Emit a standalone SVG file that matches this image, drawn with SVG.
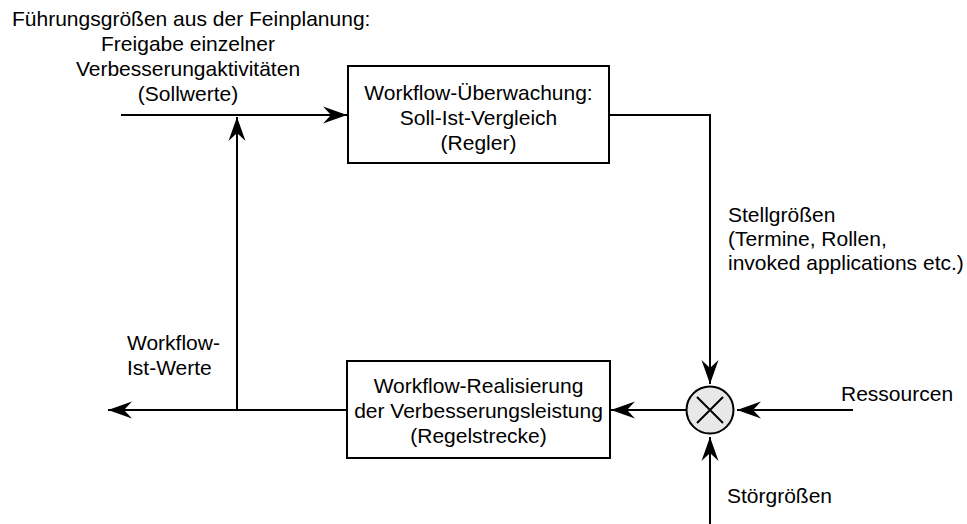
<svg xmlns="http://www.w3.org/2000/svg" width="967" height="524" viewBox="0 0 967 524">
  <style>
    text { font-family: "Liberation Sans", Arial, sans-serif; font-size: 21px; fill: #000; }
    .c { text-anchor: middle; }
    .box { fill: #fff; stroke: #000; stroke-width: 2; }
    .wire { fill: none; stroke: #000; stroke-width: 2; marker-end: url(#arrow); }
    .plain { fill: none; stroke: #000; stroke-width: 2; }
  </style>
  <defs>
    <marker id="arrow" markerUnits="userSpaceOnUse" markerWidth="30" markerHeight="24" viewBox="-26 -12 28 24" refX="0" refY="0" orient="auto">
      <path d="M0,0 L-24,-8.5 L-16,0 L-24,8.5 Z" fill="#000"/>
    </marker>
  </defs>
  <rect width="967" height="524" fill="#fff"/>

  <!-- connectors -->
  <g id="connectors">
    <path class="wire" d="M121,115 H347"/>
    <path class="wire" d="M237,410 V117"/>
    <path class="wire" d="M609,115 H710 V384"/>
    <path class="wire" d="M853,410 H737"/>
    <path class="wire" d="M710,524 V437"/>
    <path class="wire" d="M686,410 H611"/>
    <path class="wire" d="M347,410 H108"/>
  </g>

  <!-- controller -->
  <g id="regler">
    <rect class="box" x="348" y="66" width="261" height="97"/>
    <text class="c" x="478.5" y="100">Workflow-Überwachung:</text>
    <text class="c" x="478.5" y="125">Soll-Ist-Vergleich</text>
    <text class="c" x="478.5" y="150">(Regler)</text>
  </g>

  <!-- controlled system -->
  <g id="regelstrecke">
    <rect class="box" x="347" y="361" width="263" height="97"/>
    <text class="c" x="478.5" y="393">Workflow-Realisierung</text>
    <text class="c" x="478.5" y="418">der Verbesserungsleistung</text>
    <text class="c" x="478.5" y="443">(Regelstrecke)</text>
  </g>

  <!-- mixing point -->
  <g id="mischstelle">
    <circle cx="710" cy="410" r="23.5" fill="#e8e8e8" stroke="#000" stroke-width="2"/>
    <path class="plain" d="M697,397 L723,423 M723,397 L697,423"/>
  </g>

  <!-- labels -->
  <g id="fuehrungsgroessen">
    <text x="12" y="26">Führungsgrößen aus der Feinplanung:</text>
    <text class="c" x="188" y="51">Freigabe einzelner</text>
    <text class="c" x="188" y="76">Verbesserungaktivitäten</text>
    <text class="c" x="188" y="101">(Sollwerte)</text>
  </g>
  <g id="istwerte">
    <text x="127" y="350">Workflow-</text>
    <text x="127" y="375">Ist-Werte</text>
  </g>
  <g id="stellgroessen">
    <text x="728" y="222">Stellgrößen</text>
    <text x="728" y="246">(Termine, Rollen,</text>
    <text x="728" y="270">invoked applications etc.)</text>
  </g>
  <g id="ressourcen">
    <text x="841" y="401">Ressourcen</text>
  </g>
  <g id="stoergroessen">
    <text x="727" y="503">Störgrößen</text>
  </g>
</svg>
